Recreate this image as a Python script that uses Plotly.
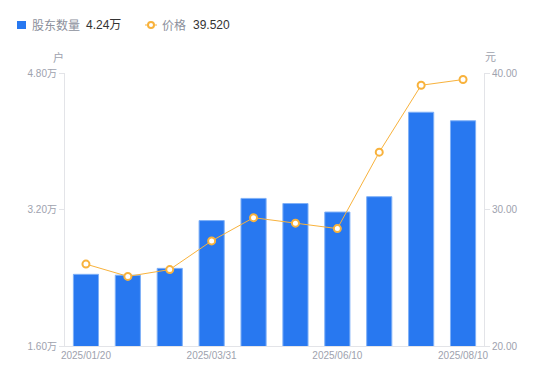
import plotly.graph_objects as go

categories = ["2025/01/20", "2025/02/10", "2025/02/28", "2025/03/31", "2025/04/18",
              "2025/04/30", "2025/06/10", "2025/06/30", "2025/07/20", "2025/08/10"]
holders = [2.44, 2.43, 2.51, 3.07, 3.33, 3.27, 3.17, 3.35, 4.34, 4.24]   # 万户
price = [26.0, 25.1, 25.6, 27.7, 29.4, 29.0, 28.6, 34.2, 39.1, 39.52]    # 元
x_ticks = ["2025/01/20", "2025/03/31", "2025/06/10", "2025/08/10"]
left_ticks = [1.6, 3.2, 4.8]
left_labels = ["1.60万", "3.20万", "4.80万"]
right_ticks = [20, 30, 40]
right_labels = ["20.00", "30.00", "40.00"]

BLUE = "#2878F0"
ORANGE = "#F8B23C"
GRAY = "#9EA2AE"
FONT = "Liberation Sans, Arial, 'Noto Sans CJK SC', sans-serif"

# page body has an 8px margin; compensate so the plot lands where the reference has it
OFF = 8
PL, PT, PR, PB = 65, 73, 484, 346   # plot area in window pixels

fig = go.Figure()
fig.add_trace(go.Bar(x=categories, y=holders, name="股东数量",
                     marker=dict(color=BLUE, line=dict(color="#7FB0F7", width=1)),
                     yaxis="y"))
fig.add_trace(go.Scatter(x=categories, y=price, name="价格", mode="lines+markers",
                         line=dict(color=ORANGE, width=1),
                         marker=dict(symbol="circle", size=7, color="white",
                                     line=dict(color=ORANGE, width=2)),
                         yaxis="y2"))

W, H = 534, 365
fig.update_layout(
    width=W, height=H,
    margin=dict(l=PL - OFF, r=W - (PR - OFF), t=PT - OFF, b=H - (PB - OFF)),
    paper_bgcolor="white", plot_bgcolor="white",
    showlegend=False, bargap=0.4,
    font=dict(family=FONT, size=10, color=GRAY),
    xaxis=dict(type="category", range=[-0.5, len(categories) - 0.5],
               tickvals=x_ticks, ticktext=x_ticks, automargin=False,
               showline=True, linecolor="#E3E4E8", linewidth=1,
               ticks="", showgrid=False, tickfont=dict(size=10, color=GRAY)),
    yaxis=dict(range=[1.6, 4.8], tickvals=left_ticks, ticktext=left_labels, automargin=False,
               showline=True, linecolor="#E3E4E8", linewidth=1,
               ticks="outside", ticklen=5, tickcolor="#E3E4E8",
               showgrid=False, zeroline=False, tickfont=dict(size=10, color=GRAY)),
    yaxis2=dict(range=[20, 40], tickvals=right_ticks, ticktext=right_labels, automargin=False,
                overlaying="y", side="right",
                showline=True, linecolor="#E3E4E8", linewidth=1,
                ticks="outside", ticklen=5, tickcolor="#E3E4E8",
                showgrid=False, zeroline=False, tickfont=dict(size=10, color=GRAY)),
)

def ann(text, px, py, color, size=12, anchor="left"):
    fig.add_annotation(text=text, xref="paper", yref="paper", x=0, y=1,
                       xshift=px - PL, yshift=PT - py, xanchor=anchor, yanchor="middle",
                       showarrow=False, font=dict(size=size, color=color, family=FONT))

# axis unit titles
ann("户", 58, 57, GRAY, size=11, anchor="center")
ann("元", 490, 57, GRAY, size=11, anchor="center")

# custom legend
ann("股东数量", 30, 25, "#8C909C")
ann("4.24万", 84, 25, "#333333")
ann("价格", 160, 25, "#8C909C")
ann("39.520", 191, 25, "#333333")

def pshape(kind, x0, x1, y0, y1, **kw):
    fig.add_shape(type=kind, xref="paper", yref="paper", xsizemode="pixel", ysizemode="pixel",
                  xanchor=0, yanchor=1, x0=x0 - PL, x1=x1 - PL, y0=PT - y0, y1=PT - y1, **kw)

pshape("rect", 17, 26, 29, 21, fillcolor=BLUE, line=dict(width=0))
pshape("line", 145, 157, 25, 25, line=dict(color=ORANGE, width=1))
pshape("circle", 148, 154, 28, 22, fillcolor="white", line=dict(color=ORANGE, width=2))

fig.write_html("out.html")
